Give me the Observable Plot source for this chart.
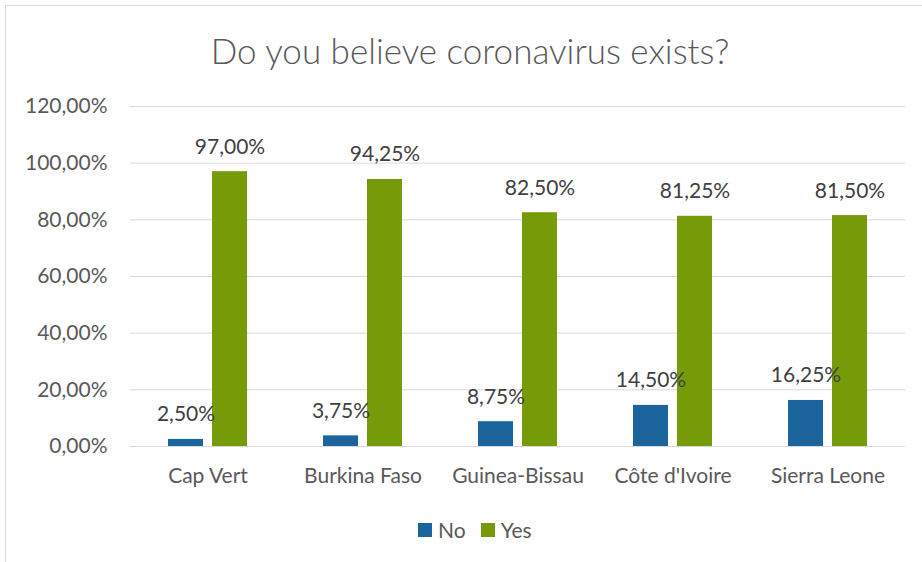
<!DOCTYPE html>
<html>
<head>
<meta charset="utf-8">
<script src="https://cdn.jsdelivr.net/npm/d3@7"></script>
<script src="https://cdn.jsdelivr.net/npm/@observablehq/plot@0.6"></script>
<style>
  html, body { margin: 0; padding: 0; background: #fff; overflow: hidden; }
  #wrap { position: relative; width: 922px; height: 562px; overflow: hidden; font-family: Lato, "Open Sans", sans-serif; color: #595959; }
  #frame { position: absolute; left: 5px; top: 5px; width: 1000px; height: 1000px; border: 1px solid #d9d9d9; box-sizing: border-box; }
  #title { position: absolute; left: 0; top: 29px; width: 940px; text-align: center; font-size: 35px; font-weight: 300; color: #595959; }
  #chart { position: absolute; left: 0; top: 80px; }
  #legend { position: absolute; top: 517px; left: 418px; font-size: 21px; display: flex; align-items: center; color: #595959; }
  #legend .sw { width: 14px; height: 14px; display: inline-block; margin-right: 6px; }
  #legend .item { display: flex; align-items: center; margin-right: 15px; }
</style>
</head>
<body>
<div id="wrap">
  <div id="frame"></div>
  <div id="title">Do you believe coronavirus exists?</div>
  <div id="chart"></div>
  <div id="legend"></div>
</div>
<script>
const countries = ["Cap Vert", "Burkina Faso", "Guinea-Bissau", "Côte d'Ivoire", "Sierra Leone"];
const noValues = [2.5, 3.75, 8.75, 14.5, 16.25];
const yesValues = [97, 94.25, 82.5, 81.25, 81.5];
const yTicks = [0, 20, 40, 60, 80, 100, 120];
const seriesNames = ["No", "Yes"];
const seriesColors = ["#1b659c", "#779a09"];

const fmt = v => d3.format(".2f")(v).replace(".", ",") + "%";

const noData = countries.map((c, i) => ({country: c, value: noValues[i]}));
const yesData = countries.map((c, i) => ({country: c, value: yesValues[i]}));

const chart = Plot.plot({
  width: 922,
  height: 420,
  marginLeft: 130,
  marginRight: 17,
  marginTop: 26,
  marginBottom: 54,
  style: {fontFamily: "Lato, 'Open Sans', sans-serif", color: "#595959", background: "transparent"},
  x: {domain: countries, padding: 0, axis: null},
  y: {domain: [0, 120], axis: null},
  marks: [
    Plot.gridY(yTicks, {stroke: "#d9d9d9", strokeOpacity: 1, strokeWidth: 1}),
    Plot.axisY(yTicks, {tickSize: 0, tickPadding: 23, tickFormat: fmt, fontSize: 21, fill: "#595959", label: null}),
    Plot.axisX({tickSize: 0, tickPadding: 22, fontSize: 21, fill: "#595959", label: null}),
    Plot.barY(noData, {x: "country", y: "value", fill: seriesColors[0], insetLeft: 38, insetRight: 82}),
    Plot.barY(yesData, {x: "country", y: "value", fill: seriesColors[1], insetLeft: 82, insetRight: 38}),
    Plot.text(noData, {x: "country", y: "value", text: d => fmt(d.value), dx: -22, dy: -18, lineAnchor: "bottom", fontSize: 21, fill: "#404040"}),
    Plot.text(yesData, {x: "country", y: "value", text: d => fmt(d.value), dx: 22, dy: -18, lineAnchor: "bottom", fontSize: 21, fill: "#404040"})
  ]
});
document.getElementById("chart").appendChild(chart);

const legend = document.getElementById("legend");
seriesNames.forEach((n, i) => {
  const item = document.createElement("div");
  item.className = "item";
  const sw = document.createElement("span");
  sw.className = "sw";
  sw.style.background = seriesColors[i];
  item.appendChild(sw);
  item.appendChild(document.createTextNode(n));
  legend.appendChild(item);
});
</script>
</body>
</html>
